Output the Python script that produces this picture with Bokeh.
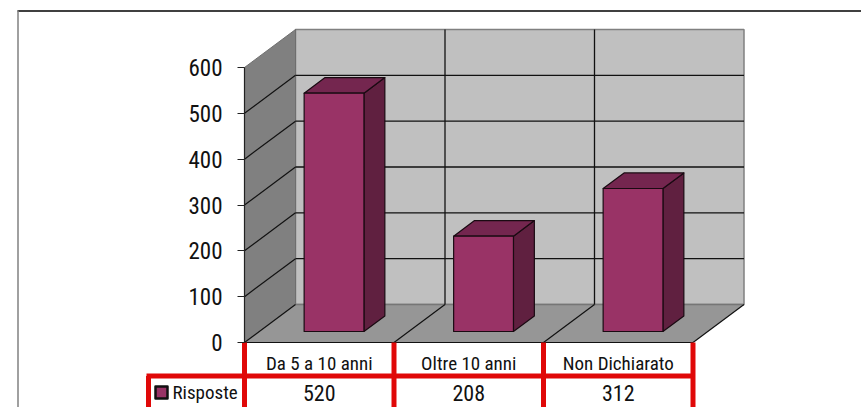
from bokeh.plotting import figure
from bokeh.models import LinearAxis, FixedTicker, Range1d
from bokeh.core.properties import value
from bokeh.embed import file_html
from bokeh.resources import INLINE

categories = ["Da 5 a 10 anni", "Oltre 10 anni", "Non Dichiarato"]
series_name = "Risposte"
values = [520, 208, 312]
y_ticks = [0, 100, 200, 300, 400, 500, 600]

FONT = "Roboto Condensed"
W, H = 861, 407
# pixel geometry of the chart's scales
X0, XS = 244.0, 149.5      # px of category edge 0, px per category
Y0, YS = 342.0, 0.4583     # px of value 0, px per unit
DX, DY = 51 / XS, 38 / YS  # 3D depth in data units
n = len(categories)
TOP = y_ticks[-1]

def dxp(px): return (px - X0) / XS
def dyp(py): return (Y0 - py) / YS

p = figure(width=W, height=H, output_backend="svg", toolbar_location=None,
           x_range=Range1d(dxp(0), dxp(W)), y_range=Range1d(dyp(H), dyp(0)),
           min_border=0, x_axis_type=None, y_axis_type=None)
p.grid.visible = False
p.outline_line_color = None

# outer frame of the picture
p.segment([dxp(17)], [dyp(10.5)], [dxp(861)], [dyp(10.5)], line_color="#000000", line_width=1.6)
p.segment([dxp(17.5)], [dyp(10)], [dxp(17.5)], [dyp(407)], line_color="#808080", line_width=1.5)

# walls and floor
p.patch([DX, n + DX, n + DX, DX], [DY, DY, TOP + DY, TOP + DY],
        fill_color="#C0C0C0", line_color="#808080", line_width=1.5)
p.patch([0, DX, DX, 0], [0, DY, TOP + DY, TOP],
        fill_color="#808080", line_color="#6E6E6E", line_width=1)
p.patch([0, n, n + DX, DX], [0, 0, DY, DY],
        fill_color="#969696", line_color=None)
p.segment([DX], [DY], [n + DX], [DY], line_color="#767676", line_width=1.5)

# grid on the walls
inner = [t for t in y_ticks if 0 < t < TOP]
p.segment([DX] * len(inner), [t + DY for t in inner], [n + DX] * len(inner), [t + DY for t in inner],
          line_color="#111111", line_width=1.3)
p.segment([0] * len(inner), inner, [DX] * len(inner), [t + DY for t in inner],
          line_color="#111111", line_width=1.2)
p.segment([0, 1, 2, 3], [0] * 4, [DX + i for i in range(4)], [DY] * 4,
          line_color="#111111", line_width=1.2)
p.segment([1 + DX, 2 + DX], [DY, DY], [1 + DX, 2 + DX], [TOP + DY, TOP + DY],
          line_color="#111111", line_width=1.3)
p.segment([0], [0], [n], [0], line_color="#111111", line_width=1.2)

# bars
front, back, gap = 0.29, 0.70, 0.3
for i, v in enumerate(values):
    xl = i + gap + front * DX
    xr = i + 1 - gap + front * DX
    base = front * DY
    ox, oy = (back - front) * DX, (back - front) * DY
    edge = dict(line_color="#1A0A12", line_width=1.2, line_join="round")
    p.patch([xr, xr + ox, xr + ox, xr], [base, base + oy, base + v + oy, base + v],
            fill_color="#602040", **edge)
    p.patch([xl, xr, xr + ox, xl + ox], [base + v, base + v, base + v + oy, base + v + oy],
            fill_color="#74264F", **edge)
    p.patch([xl, xr, xr, xl], [base, base, base + v, base + v],
            fill_color="#993366", **edge)

# value axis
axis = LinearAxis(fixed_location=0, ticker=FixedTicker(ticks=y_ticks), bounds=(0, TOP),
                  axis_line_color="#222222", axis_line_width=1.2,
                  major_tick_line_color="#222222", major_tick_line_width=1,
                  major_tick_in=0, major_tick_out=7, minor_tick_line_color=None,
                  major_label_standoff=15, major_label_text_font=FONT,
                  major_label_text_font_size="23px", major_label_text_color="#111111")
p.add_layout(axis, "left")

# data table
RED = "#E00808"
row_y = dyp(375.5)
p.segment([dxp(146)], [row_y], [n], [row_y], line_color=RED, line_width=5)
p.segment(list(range(n + 1)), [0] * (n + 1), list(range(n + 1)), [dyp(407)] * (n + 1),
          line_color=RED, line_width=5)
p.segment([dxp(148)], [row_y], [dxp(148)], [dyp(407)], line_color=RED, line_width=5)

centers = [i + 0.5 for i in range(n)]
txt = dict(text_font=value(FONT), text_color="#111111", text_align="center", text_baseline="middle")
p.text(centers, [dyp(362.5)] * n, text=categories, text_font_size="19px", **txt)
p.text(centers, [dyp(392)] * n, text=[str(v) for v in values], text_font_size="22px", **txt)
p.text([dxp(172)], [dyp(392)], text=[series_name], text_font=value(FONT), text_font_size="19px",
       text_color="#111111", text_align="left", text_baseline="middle")
p.rect([dxp(161)], [dyp(392)], width=12 / XS, height=12 / YS,
       fill_color="#993366", line_color="#111111", line_width=2.5, line_join="round")

open("out.html", "w").write(file_html(p, INLINE))
